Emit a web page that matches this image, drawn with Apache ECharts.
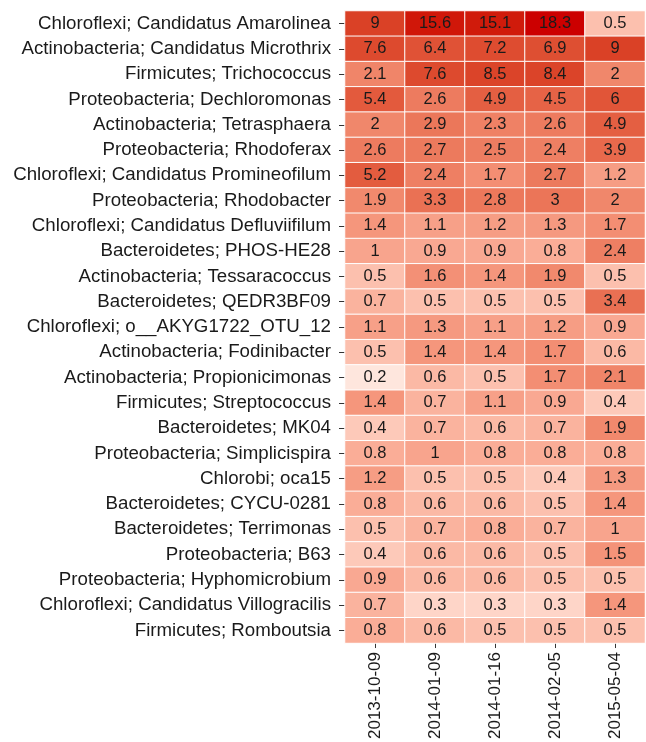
<!DOCTYPE html>
<html>
<head>
<meta charset="utf-8">
<script src="https://cdn.jsdelivr.net/npm/echarts@6/dist/echarts.min.js"></script>
<style>
html,body{margin:0;padding:0;background:#fff;}
#chart{width:646px;height:742px;}
</style>
</head>
<body>
<div id="chart"></div>
<script>
var taxa = [
  "Chloroflexi; Candidatus Amarolinea",
  "Actinobacteria; Candidatus Microthrix",
  "Firmicutes; Trichococcus",
  "Proteobacteria; Dechloromonas",
  "Actinobacteria; Tetrasphaera",
  "Proteobacteria; Rhodoferax",
  "Chloroflexi; Candidatus Promineofilum",
  "Proteobacteria; Rhodobacter",
  "Chloroflexi; Candidatus Defluviifilum",
  "Bacteroidetes; PHOS-HE28",
  "Actinobacteria; Tessaracoccus",
  "Bacteroidetes; QEDR3BF09",
  "Chloroflexi; o__AKYG1722_OTU_12",
  "Actinobacteria; Fodinibacter",
  "Actinobacteria; Propionicimonas",
  "Firmicutes; Streptococcus",
  "Bacteroidetes; MK04",
  "Proteobacteria; Simplicispira",
  "Chlorobi; oca15",
  "Bacteroidetes; CYCU-0281",
  "Bacteroidetes; Terrimonas",
  "Proteobacteria; B63",
  "Proteobacteria; Hyphomicrobium",
  "Chloroflexi; Candidatus Villogracilis",
  "Firmicutes; Romboutsia"
];
var dates = ["2013-10-09", "2014-01-09", "2014-01-16", "2014-02-05", "2015-05-04"];

var d20131009 = [9, 7.6, 2.1, 5.4, 2, 2.6, 5.2, 1.9, 1.4, 1, 0.5, 0.7, 1.1, 0.5, 0.2, 1.4, 0.4, 0.8, 1.2, 0.8, 0.5, 0.4, 0.9, 0.7, 0.8];
var d20140109 = [15.6, 6.4, 7.6, 2.6, 2.9, 2.7, 2.4, 3.3, 1.1, 0.9, 1.6, 0.5, 1.3, 1.4, 0.6, 0.7, 0.7, 1, 0.5, 0.6, 0.7, 0.6, 0.6, 0.3, 0.6];
var d20140116 = [15.1, 7.2, 8.5, 4.9, 2.3, 2.5, 1.7, 2.8, 1.2, 0.9, 1.4, 0.5, 1.1, 1.4, 0.5, 1.1, 0.6, 0.8, 0.5, 0.6, 0.8, 0.6, 0.6, 0.3, 0.5];
var d20140205 = [18.3, 6.9, 8.4, 4.5, 2.6, 2.4, 2.7, 3, 1.3, 0.8, 1.9, 0.5, 1.2, 1.7, 1.7, 0.9, 0.7, 0.8, 0.4, 0.5, 0.7, 0.5, 0.5, 0.3, 0.5];
var d20150504 = [0.5, 9, 2, 6, 4.9, 3.9, 1.2, 2, 1.7, 2.4, 0.5, 3.4, 0.9, 0.6, 2.1, 0.4, 1.9, 0.8, 1.3, 1.4, 1, 1.5, 0.5, 1.4, 0.5];

var columns = [d20131009, d20140109, d20140116, d20140205, d20150504];

// Lab interpolation helpers (ggplot-like gradient)
function toLin(c){c/=255;return c<=0.04045?c/12.92:Math.pow((c+0.055)/1.055,2.4);}
function toS(c){c=c<=0.0031308?12.92*c:1.055*Math.pow(c,1/2.4)-0.055;return Math.round(Math.max(0,Math.min(1,c))*255);}
var Xn=0.95047,Yn=1,Zn=1.08883;
function f(t){return t>0.008856?Math.cbrt(t):(7.787*t+16/116);}
function fi(t){return t>0.206893?t*t*t:(t-16/116)/7.787;}
function hex2lab(h){
  var r=toLin(parseInt(h.substr(1,2),16)),g=toLin(parseInt(h.substr(3,2),16)),b=toLin(parseInt(h.substr(5,2),16));
  var X=0.4124*r+0.3576*g+0.1805*b,Y=0.2126*r+0.7152*g+0.0722*b,Z=0.0193*r+0.1192*g+0.9505*b;
  var fx=f(X/Xn),fy=f(Y/Yn),fz=f(Z/Zn);
  return [116*fy-16,500*(fx-fy),200*(fy-fz)];
}
function lab2rgb(L,a,b){
  var fy=(L+16)/116,fx=fy+a/500,fz=fy-b/200;
  var X=Xn*fi(fx),Y=Yn*fi(fy),Z=Zn*fi(fz);
  var r=3.2406*X-1.5372*Y-0.4986*Z,g=-0.9689*X+1.8758*Y+0.0415*Z,bb=0.0557*X-0.2040*Y+1.0570*Z;
  return 'rgb('+toS(r)+','+toS(g)+','+toS(bb)+')';
}
var lowC=hex2lab('#FEE6DD'), highC=hex2lab('#CC0000');
var stops=[];
for(var i=0;i<=20;i++){var t=i/20;stops.push(lab2rgb(lowC[0]+(highC[0]-lowC[0])*t,lowC[1]+(highC[1]-lowC[1])*t,lowC[2]+(highC[2]-lowC[2])*t));}

var data=[];
var allVals=[];
columns.forEach(function(col,ci){
  col.forEach(function(v,ri){data.push([ci,ri,v,Math.log(v)]);allVals.push(v);});
});
var vmin=Math.log(Math.min.apply(null,allVals)), vmax=Math.log(Math.max.apply(null,allVals));

var chart=echarts.init(document.getElementById('chart'),null,{renderer:'canvas'});
var font='Liberation Sans, Arial, Helvetica, sans-serif';
chart.setOption({
  backgroundColor:'#ffffff',
  animation:false,
  grid:{left:345,right:1,top:11,bottom:89,containLabel:false},
  xAxis:{
    type:'category',data:dates,position:'bottom',
    axisLine:{show:false},
    axisTick:{show:true,length:5,alignWithLabel:true,lineStyle:{color:'#333',width:1}},
    axisLabel:{rotate:90,margin:9,fontSize:17,color:'#1a1a1a',fontFamily:font},
    splitLine:{show:false},splitArea:{show:false}
  },
  yAxis:{
    type:'category',data:taxa,inverse:true,
    axisLine:{show:false},
    axisTick:{show:true,length:6,alignWithLabel:true,lineStyle:{color:'#333',width:1}},
    axisLabel:{margin:14,fontSize:18.7,color:'#1a1a1a',fontFamily:font},
    splitLine:{show:false},splitArea:{show:false}
  },
  visualMap:{show:false,type:'continuous',dimension:3,min:vmin,max:vmax,inRange:{color:stops}},
  series:[{
    type:'heatmap',data:data,
    itemStyle:{borderColor:'#ffffff',borderWidth:1},
    label:{show:true,fontSize:16.5,color:'#1a1a1a',fontFamily:font,formatter:function(p){return String(p.value[2]);}},
    emphasis:{disabled:true}
  }]
});
</script>
</body>
</html>
